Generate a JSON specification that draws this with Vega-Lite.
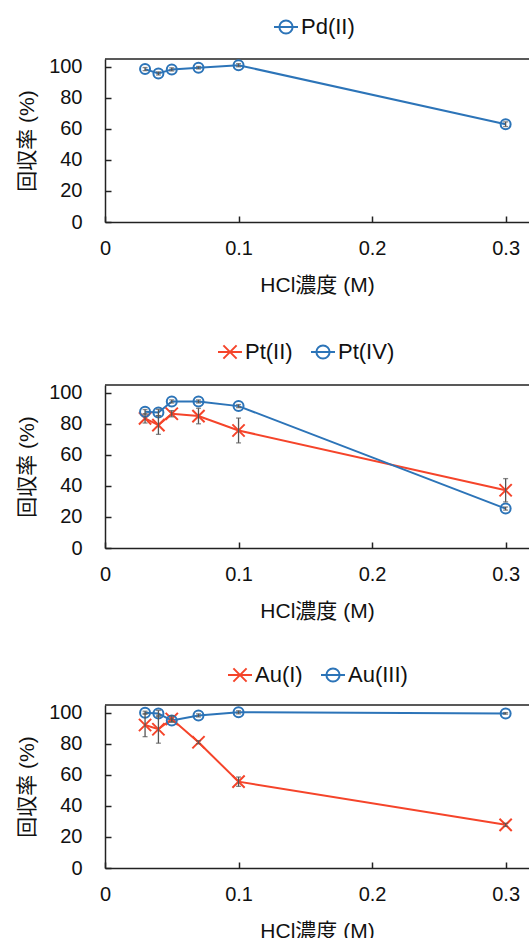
{
  "$schema": "https://vega.github.io/schema/vega-lite/v6.json",
  "padding": {"left": 16, "top": 14, "right": 0, "bottom": 0},
  "background": "white",
  "spacing": 44,
  "config": {
    "font": "Liberation Sans, Noto Sans CJK JP",
    "view": {"stroke": null},
    "axis": {
      "grid": false,
      "domainColor": "#222",
      "domainWidth": 1.5,
      "tickColor": "#222",
      "tickWidth": 1.5,
      "tickSize": -6,
      "labelOverlap": false,
      "labelFlush": false,
      "labelFont": "Liberation Sans",
      "labelFontSize": 20,
      "labelColor": "#111",
      "titleFont": "Liberation Sans, Noto Sans CJK JP",
      "titleFontSize": 21,
      "titleFontWeight": "normal",
      "titleColor": "#111"
    },
    "axisQuantitative": {"labelOverlap": false},
    "axisY": {"labelPadding": 29, "titlePadding": 11, "labelOverlap": false},
    "axisX": {"labelPadding": 22, "titlePadding": 16, "labelFlush": false},
    "legend": {
      "labelFont": "Liberation Sans",
      "labelFontSize": 22,
      "labelColor": "#111",
      "symbolSize": 576,
      "symbolStrokeWidth": 2,
      "labelOffset": 2,
      "columnPadding": 14
    }
  },
  "datasets": {
    "pd": [
      {"series": "Pd(II)", "x": 0.03, "y": 98.5, "err": 1},
      {"series": "Pd(II)", "x": 0.04, "y": 95.7, "err": 1},
      {"series": "Pd(II)", "x": 0.05, "y": 98.3, "err": 1},
      {"series": "Pd(II)", "x": 0.07, "y": 99.4, "err": 0.8},
      {"series": "Pd(II)", "x": 0.1, "y": 101, "err": 1},
      {"series": "Pd(II)", "x": 0.3, "y": 63, "err": 1.5}
    ],
    "pt": [
      {"series": "Pt(II)", "x": 0.03, "y": 83.5, "err": 3},
      {"series": "Pt(II)", "x": 0.04, "y": 79.2, "err": 6},
      {"series": "Pt(II)", "x": 0.05, "y": 86.5, "err": 2},
      {"series": "Pt(II)", "x": 0.07, "y": 85, "err": 5},
      {"series": "Pt(II)", "x": 0.1, "y": 75.7, "err": 8},
      {"series": "Pt(II)", "x": 0.3, "y": 37.2, "err": 7.5},
      {"series": "Pt(IV)", "x": 0.03, "y": 87.7, "err": 1.5},
      {"series": "Pt(IV)", "x": 0.04, "y": 87.3, "err": 2},
      {"series": "Pt(IV)", "x": 0.05, "y": 94.4, "err": 1},
      {"series": "Pt(IV)", "x": 0.07, "y": 94.4, "err": 1},
      {"series": "Pt(IV)", "x": 0.1, "y": 91.4, "err": 1},
      {"series": "Pt(IV)", "x": 0.3, "y": 25.4, "err": 1}
    ],
    "au": [
      {"series": "Au(I)", "x": 0.03, "y": 92.1, "err": 7.5},
      {"series": "Au(I)", "x": 0.04, "y": 89.4, "err": 9},
      {"series": "Au(I)", "x": 0.05, "y": 96, "err": 2},
      {"series": "Au(I)", "x": 0.07, "y": 81, "err": 1},
      {"series": "Au(I)", "x": 0.1, "y": 55.6, "err": 3},
      {"series": "Au(I)", "x": 0.3, "y": 27.8, "err": 1},
      {"series": "Au(III)", "x": 0.03, "y": 100, "err": 1},
      {"series": "Au(III)", "x": 0.04, "y": 99.5, "err": 2},
      {"series": "Au(III)", "x": 0.05, "y": 95, "err": 1},
      {"series": "Au(III)", "x": 0.07, "y": 98.3, "err": 1},
      {"series": "Au(III)", "x": 0.1, "y": 100.3, "err": 1},
      {"series": "Au(III)", "x": 0.3, "y": 99.6, "err": 0.5}
    ]
  },
  "resolve": {"scale": {"color": "independent"}, "legend": {"color": "independent"}},
  "vconcat": [
    {
      "width": 424, "height": 163,
      "layer": [
        {"data": {"values": [{}]}, "mark": {"type": "rule", "color": "#222", "strokeWidth": 1.5},
         "encoding": {"y": {"datum": 105, "type": "quantitative", "scale": {"domain": [0, 105], "nice": false}, "axis": {"values": [0, 20, 40, 60, 80, 100], "labelOverlap": false, "title": "回収率 (%)"}}}},
        {"data": {"name": "pd"}, "mark": {"type": "line", "strokeWidth": 2},
         "encoding": {
           "x": {"field": "x", "type": "quantitative", "scale": {"domain": [0, 0.3175], "nice": false}, "axis": {"values": [0, 0.1, 0.2, 0.3], "format": ".1~f", "labelFlush": false, "title": "HCl濃度 (M)"}},
           "y": {"field": "y", "type": "quantitative", "axis": {"values": [0, 20, 40, 60, 80, 100], "labelOverlap": false, "title": "回収率 (%)"}},
           "color": {"field": "series", "type": "nominal", "scale": {"domain": ["Pd(II)"], "range": ["#2C74B8"]},
             "legend": {"orient": "none", "legendX": 168, "legendY": -45, "direction": "horizontal", "title": null,
               "encode": {"symbols": {"update": {"shape": {"value": "M-1,0L1,0M-0.55,0A0.55,0.55,0,1,1,0.55,0A0.55,0.55,0,1,1,-0.55,0"}, "fill": {"value": "transparent"}}}}}}
         }},
        {"data": {"name": "pd"}, "mark": {"type": "point", "filled": false, "strokeWidth": 2, "size": 100, "shape": "circle", "opacity": 1},
         "encoding": {
           "x": {"field": "x", "type": "quantitative"},
           "y": {"field": "y", "type": "quantitative", "axis": {"values": [0, 20, 40, 60, 80, 100], "labelOverlap": false, "title": "回収率 (%)"}},
           "color": {"field": "series", "type": "nominal", "legend": null}
         }},
        {"data": {"name": "pd"}, "mark": {"type": "errorbar", "ticks": true, "color": "#555", "thickness": 1.3},
         "encoding": {
           "x": {"field": "x", "type": "quantitative", "title": "HCl濃度 (M)"},
           "y": {"field": "y", "type": "quantitative", "axis": {"values": [0, 20, 40, 60, 80, 100], "labelOverlap": false, "title": "回収率 (%)"}},
           "yError": {"field": "err"}
         }}
      ]
    },
    {
      "spacing": 41,
      "resolve": {"scale": {"color": "independent"}, "legend": {"color": "independent"}},
      "vconcat": [
        {
          "width": 424, "height": 163,
          "layer": [
            {"data": {"values": [{}]}, "mark": {"type": "rule", "color": "#222", "strokeWidth": 1.5},
             "encoding": {"y": {"datum": 105, "type": "quantitative", "scale": {"domain": [0, 105], "nice": false}, "axis": {"values": [0, 20, 40, 60, 80, 100], "labelOverlap": false, "title": "回収率 (%)"}}}},
            {"data": {"name": "pt"}, "mark": {"type": "line", "strokeWidth": 2},
             "encoding": {
               "x": {"field": "x", "type": "quantitative", "scale": {"domain": [0, 0.3175], "nice": false}, "axis": {"values": [0, 0.1, 0.2, 0.3], "format": ".1~f", "labelFlush": false, "title": "HCl濃度 (M)"}},
               "y": {"field": "y", "type": "quantitative", "axis": {"values": [0, 20, 40, 60, 80, 100], "labelOverlap": false, "title": "回収率 (%)"}},
               "color": {"field": "series", "type": "nominal", "scale": {"domain": ["Pt(II)", "Pt(IV)"], "range": ["#F5442A", "#2C74B8"]},
                 "legend": {"orient": "none", "legendX": 112, "legendY": -46, "direction": "horizontal", "title": null,
                   "encode": {"symbols": {"update": {"shape": {"signal": "datum.value == 'Pt(II)' ? 'M-1,0L1,0M-0.55,-0.55L0.55,0.55M-0.55,0.55L0.55,-0.55' : 'M-1,0L1,0M-0.55,0A0.55,0.55,0,1,1,0.55,0A0.55,0.55,0,1,1,-0.55,0'"}, "fill": {"value": "transparent"}}}}}}
             }},
            {"data": {"name": "pt"}, "transform": [{"filter": "datum.series == 'Pt(II)'"}],
             "mark": {"type": "point", "filled": false, "strokeWidth": 2, "opacity": 1, "shape": "M-1,-1L1,1M-1,1L1,-1", "size": 150},
             "encoding": {
               "x": {"field": "x", "type": "quantitative"},
               "y": {"field": "y", "type": "quantitative", "axis": {"values": [0, 20, 40, 60, 80, 100], "labelOverlap": false, "title": "回収率 (%)"}},
               "color": {"field": "series", "type": "nominal", "legend": null}
             }},
            {"data": {"name": "pt"}, "transform": [{"filter": "datum.series == 'Pt(IV)'"}],
             "mark": {"type": "point", "filled": false, "strokeWidth": 2, "opacity": 1, "shape": "circle", "size": 100},
             "encoding": {
               "x": {"field": "x", "type": "quantitative"},
               "y": {"field": "y", "type": "quantitative", "axis": {"values": [0, 20, 40, 60, 80, 100], "labelOverlap": false, "title": "回収率 (%)"}},
               "color": {"field": "series", "type": "nominal", "legend": null}
             }},
            {"data": {"name": "pt"}, "mark": {"type": "errorbar", "ticks": true, "color": "#555", "thickness": 1.3},
             "encoding": {
               "x": {"field": "x", "type": "quantitative", "title": "HCl濃度 (M)"},
               "y": {"field": "y", "type": "quantitative", "axis": {"values": [0, 20, 40, 60, 80, 100], "labelOverlap": false, "title": "回収率 (%)"}},
               "yError": {"field": "err"}
             }}
          ]
        },
        {
          "width": 424, "height": 163,
          "layer": [
            {"data": {"values": [{}]}, "mark": {"type": "rule", "color": "#222", "strokeWidth": 1.5},
             "encoding": {"y": {"datum": 105, "type": "quantitative", "scale": {"domain": [0, 105], "nice": false}, "axis": {"values": [0, 20, 40, 60, 80, 100], "labelOverlap": false, "title": "回収率 (%)"}}}},
            {"data": {"name": "au"}, "mark": {"type": "line", "strokeWidth": 2},
             "encoding": {
               "x": {"field": "x", "type": "quantitative", "scale": {"domain": [0, 0.3175], "nice": false}, "axis": {"values": [0, 0.1, 0.2, 0.3], "format": ".1~f", "labelFlush": false, "title": "HCl濃度 (M)"}},
               "y": {"field": "y", "type": "quantitative", "axis": {"values": [0, 20, 40, 60, 80, 100], "labelOverlap": false, "title": "回収率 (%)"}},
               "color": {"field": "series", "type": "nominal", "scale": {"domain": ["Au(I)", "Au(III)"], "range": ["#F5442A", "#2C74B8"]},
                 "legend": {"orient": "none", "legendX": 122, "legendY": -43, "direction": "horizontal", "title": null,
                   "encode": {"symbols": {"update": {"shape": {"signal": "datum.value == 'Au(I)' ? 'M-1,0L1,0M-0.55,-0.55L0.55,0.55M-0.55,0.55L0.55,-0.55' : 'M-1,0L1,0M-0.55,0A0.55,0.55,0,1,1,0.55,0A0.55,0.55,0,1,1,-0.55,0'"}, "fill": {"value": "transparent"}}}}}}
             }},
            {"data": {"name": "au"}, "transform": [{"filter": "datum.series == 'Au(I)'"}],
             "mark": {"type": "point", "filled": false, "strokeWidth": 2, "opacity": 1, "shape": "M-1,-1L1,1M-1,1L1,-1", "size": 150},
             "encoding": {
               "x": {"field": "x", "type": "quantitative"},
               "y": {"field": "y", "type": "quantitative", "axis": {"values": [0, 20, 40, 60, 80, 100], "labelOverlap": false, "title": "回収率 (%)"}},
               "color": {"field": "series", "type": "nominal", "legend": null}
             }},
            {"data": {"name": "au"}, "transform": [{"filter": "datum.series == 'Au(III)'"}],
             "mark": {"type": "point", "filled": false, "strokeWidth": 2, "opacity": 1, "shape": "circle", "size": 100},
             "encoding": {
               "x": {"field": "x", "type": "quantitative"},
               "y": {"field": "y", "type": "quantitative", "axis": {"values": [0, 20, 40, 60, 80, 100], "labelOverlap": false, "title": "回収率 (%)"}},
               "color": {"field": "series", "type": "nominal", "legend": null}
             }},
            {"data": {"name": "au"}, "mark": {"type": "errorbar", "ticks": true, "color": "#555", "thickness": 1.3},
             "encoding": {
               "x": {"field": "x", "type": "quantitative", "title": "HCl濃度 (M)"},
               "y": {"field": "y", "type": "quantitative", "axis": {"values": [0, 20, 40, 60, 80, 100], "labelOverlap": false, "title": "回収率 (%)"}},
               "yError": {"field": "err"}
             }}
          ]
        }
      ]
    }
  ]
}
